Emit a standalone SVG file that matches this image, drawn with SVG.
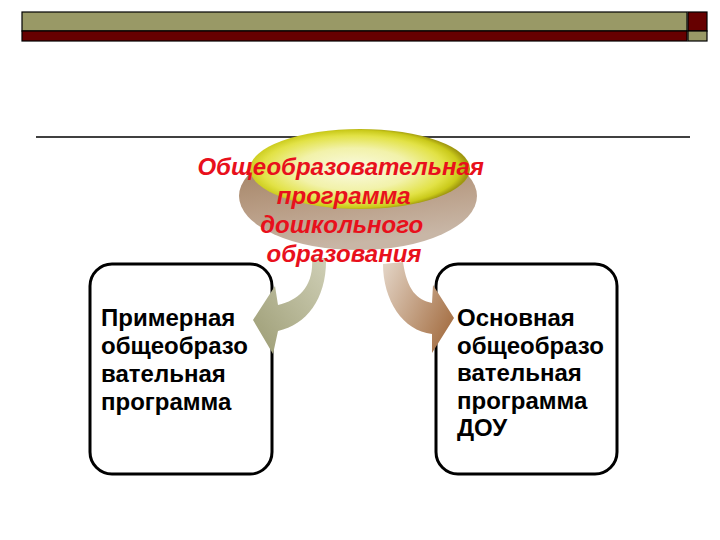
<svg xmlns="http://www.w3.org/2000/svg" width="720" height="540" viewBox="0 0 720 540">
  <style>
    .bar-olive { fill: #999966; stroke: #000; stroke-width: 1.2; }
    .bar-red { fill: #660000; stroke: #000; stroke-width: 1.2; }
    .box { fill: #ffffff; stroke: #000; stroke-width: 3; }
    .boxtext { font-family: "Liberation Sans", Arial, sans-serif; font-weight: bold; font-size: 24px; fill: #000; }
    .title { font-family: "Liberation Sans", Arial, sans-serif; font-weight: bold; font-style: italic; font-size: 24px; fill: #e8101c; text-anchor: middle; }
  </style>
  <defs>
    <radialGradient id="gYellow" cx="0.47" cy="0.5" r="0.52">
      <stop offset="0" stop-color="#fafae2"/>
      <stop offset="0.5" stop-color="#f2f2aa"/>
      <stop offset="0.8" stop-color="#e2e246"/>
      <stop offset="0.93" stop-color="#caca1a"/>
      <stop offset="1" stop-color="#a09810"/>
    </radialGradient>
    <linearGradient id="gBrown" x1="0" y1="0" x2="0.3" y2="1">
      <stop offset="0" stop-color="#9a7856"/>
      <stop offset="0.6" stop-color="#b89c84"/>
      <stop offset="1" stop-color="#c8b6a6"/>
    </linearGradient>
    <linearGradient id="gLeftArrow" x1="1" y1="0" x2="0" y2="1">
      <stop offset="0" stop-color="#cfcfb6"/>
      <stop offset="1" stop-color="#9c9c74"/>
    </linearGradient>
    <linearGradient id="gRightArrow" x1="0" y1="0" x2="1" y2="0.6">
      <stop offset="0" stop-color="#e4d6c8"/>
      <stop offset="1" stop-color="#a8744a"/>
    </linearGradient>
  </defs>

  <g id="header">
    <rect class="bar-olive" x="22" y="12" width="665" height="19"/>
    <rect class="bar-red" x="22" y="31" width="665" height="10"/>
    <rect class="bar-red" x="688" y="12" width="19" height="19"/>
    <rect class="bar-olive" x="688" y="31" width="19" height="10"/>
    <line x1="36" y1="137" x2="690" y2="137" stroke="#000" stroke-width="1.3"/>
  </g>

  <g id="node-left">
    <rect class="box" x="90" y="264" width="182" height="210" rx="22" ry="22"/>
    <text class="boxtext">
      <tspan x="101" y="326">Примерная</tspan>
      <tspan x="101" y="354">общеобразо</tspan>
      <tspan x="101" y="382">вательная</tspan>
      <tspan x="101" y="410">программа</tspan>
    </text>
  </g>

  <g id="node-right">
    <rect class="box" x="436" y="264" width="181" height="210" rx="22" ry="22"/>
    <text class="boxtext">
      <tspan x="457" y="326">Основная</tspan>
      <tspan x="457" y="353.5">общеобразо</tspan>
      <tspan x="457" y="381">вательная</tspan>
      <tspan x="457" y="408.5">программа</tspan>
      <tspan x="457" y="436">ДОУ</tspan>
    </text>
  </g>

  <g id="connectors">
    <path d="M 326,258 C 327,298 307,325 278,331 L 273,354 L 253,320 L 275,286 L 278,305 C 300,300 314,285 312,258 Z" fill="url(#gLeftArrow)"/>
    <path d="M 403,262 C 407,290 417,300 432,303 L 433,285 L 454,318 L 432,353 L 432,334 C 403,331 383,300 383,264 Z" fill="url(#gRightArrow)"/>
  </g>

  <g id="node-top">
    <ellipse cx="358" cy="196" rx="119" ry="54" fill="url(#gBrown)"/>
    <ellipse cx="360" cy="169" rx="110" ry="40" fill="url(#gYellow)"/>
    <text class="title">
      <tspan x="344" y="175">Общеобразовательная</tspan>
      <tspan x="347" y="204">программа</tspan>
      <tspan x="345" y="233">дошкольного</tspan>
      <tspan x="344" y="262">образования</tspan>
    </text>
  </g>
</svg>
